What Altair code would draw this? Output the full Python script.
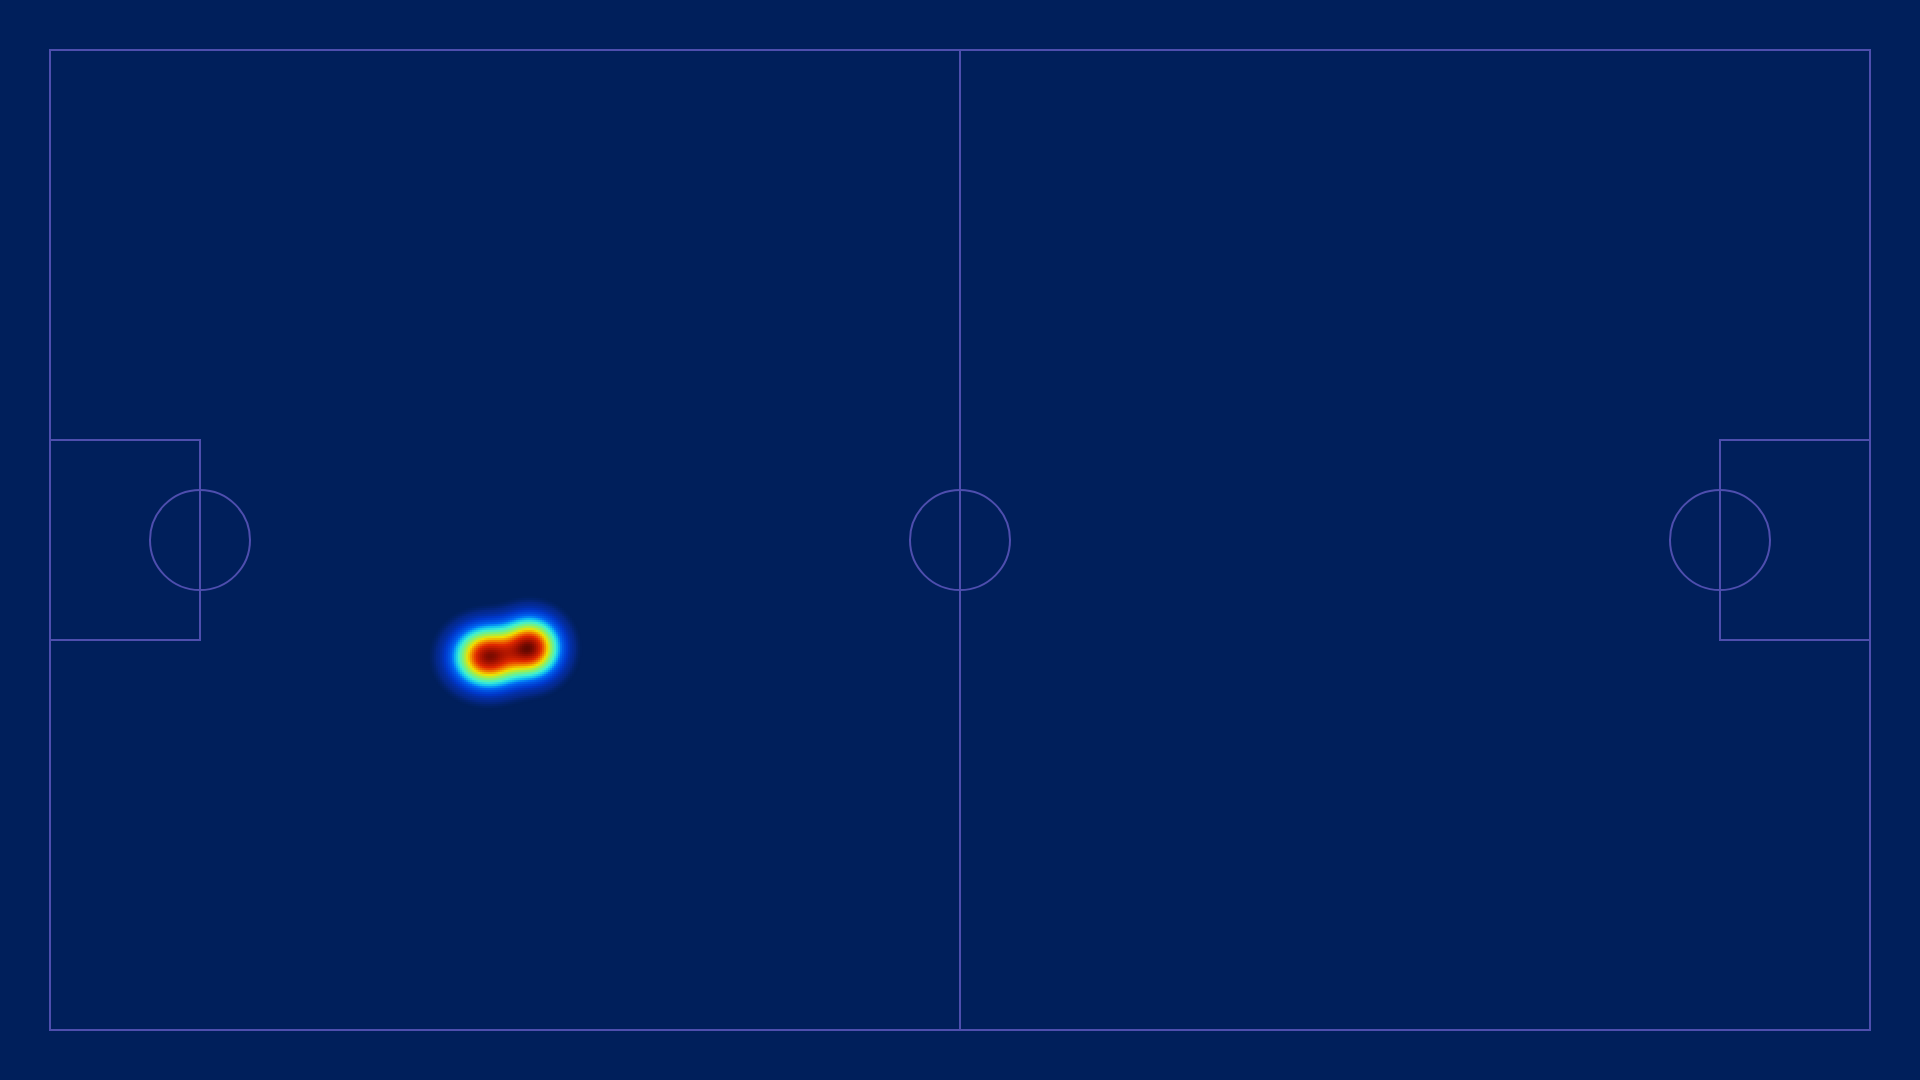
import numpy as np
import pandas as pd
import altair as alt

BG = "#001f5b"
LINE = "#4e4eae"

# Pitch in units of 10 px (1820 x 980 px)
X_DOMAIN = [0, 182]
Y_DOMAIN = [0, 98]

# Pitch line segments
seg_x1 = [0, 0, 0, 182, 91, 0, 0, 15, 167, 167, 167]
seg_y1 = [0, 98, 0, 0, 0, 39, 59, 39, 39, 59, 39]
seg_x2 = [182, 182, 0, 182, 91, 15, 15, 15, 182, 182, 167]
seg_y2 = [0, 98, 98, 98, 98, 39, 59, 59, 39, 59, 59]

# Circles (centre spot circles)
circ_x = [15, 91, 167]
circ_y = [49, 49, 49]

# Heat points (player positions) with kernel spreads
heat_x = [43.83, 48.0]
heat_y = [60.67, 59.77]
heat_w = [1.0, 1.0]
heat_sx = [1.85, 1.6]
heat_sy = [1.62, 1.6]

# Colour stops for the density (jet-like, fading into background)
stop_vals = [0.0, 0.005, 0.018, 0.06, 0.13, 0.19, 0.26, 0.38, 0.5, 0.63, 0.75, 0.9, 1.0]
stop_cols = [BG, BG, "#04288a", "#0038cc", "#0068f4", "#10bff0", "#40f0d0", "#90f060",
             "#f0e000", "#f07800", "#e02800", "#a01000", "#600800"]

# Density grid computed from the heat points
step = 0.2
gx = np.arange(36, 60, step)
gy = np.arange(50, 70, step)
GX, GY = np.meshgrid(gx + step / 2, gy + step / 2)
D = np.zeros_like(GX)
for px, py, w, sx, sy in zip(heat_x, heat_y, heat_w, heat_sx, heat_sy):
    D += w * np.exp(-((GX - px) ** 2) / (2 * sx ** 2) - ((GY - py) ** 2) / (2 * sy ** 2))
D = D / D.max()
mask = D > 0.005
heat_df = pd.DataFrame({
    "x0": (GX - step / 2)[mask],
    "x1": (GX + step / 2 + 0.03)[mask],
    "y0": (GY - step / 2)[mask],
    "y1": (GY + step / 2 + 0.03)[mask],
    "d": D[mask],
})

seg_df = pd.DataFrame({"x": seg_x1, "y": seg_y1, "x2": seg_x2, "y2": seg_y2})
circ_df = pd.DataFrame({"x": circ_x, "y": circ_y})

xs = alt.Scale(domain=X_DOMAIN, nice=False, zero=False)
ys = alt.Scale(domain=Y_DOMAIN, nice=False, zero=False, reverse=True)

heat = alt.Chart(heat_df).mark_rect(strokeWidth=0).encode(
    x=alt.X("x0:Q", scale=xs, axis=None),
    x2="x1:Q",
    y=alt.Y("y0:Q", scale=ys, axis=None),
    y2="y1:Q",
    color=alt.Color("d:Q", scale=alt.Scale(domain=stop_vals, range=stop_cols, interpolate="rgb"),
                    legend=None),
)

lines = alt.Chart(seg_df).mark_rule(color=LINE, strokeWidth=2, strokeCap="square").encode(
    x=alt.X("x:Q", scale=xs, axis=None),
    y=alt.Y("y:Q", scale=ys, axis=None),
    x2="x2:Q",
    y2="y2:Q",
)

circles = alt.Chart(circ_df).mark_point(shape="circle", filled=False, size=10000,
                                        strokeWidth=2, color=LINE, opacity=1).encode(
    x=alt.X("x:Q", scale=xs, axis=None),
    y=alt.Y("y:Q", scale=ys, axis=None),
)

chart = alt.layer(heat, lines, circles).properties(
    width=1820,
    height=980,
    padding={"left": 50, "top": 50, "right": 50, "bottom": 50},
    autosize=alt.AutoSizeParams(type="none"),
    background=BG,
).configure_view(strokeWidth=0)


class _PageTemplate:
    """Wraps the standard Altair HTML template to give the page a dark, margin-free body."""

    def __init__(self, base):
        self.base = base

    def render(self, **kw):
        html = self.base.render(**kw)
        css = ("<style>html,body{margin:0;padding:0;overflow:hidden;background:%s;}</style>" % BG)
        if "<head>" in html:
            return html.replace("<head>", "<head>" + css, 1)
        return css + html


try:
    from altair.utils.html import TEMPLATES
    chart.save("out.html", embed_options={"renderer": "svg", "actions": False},
               template=_PageTemplate(TEMPLATES["standard"]))
except Exception:
    chart.save("out.html", embed_options={"renderer": "svg", "actions": False})
